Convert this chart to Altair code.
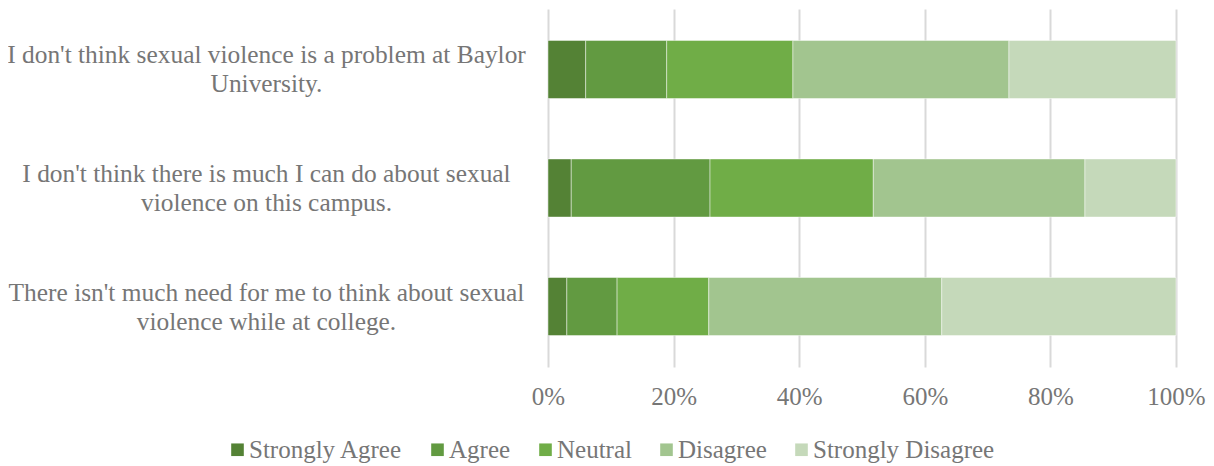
import altair as alt
import pandas as pd

statements = [
    "I don't think sexual violence is a problem at Baylor\nUniversity.",
    "I don't think there is much I can do about sexual\nviolence on this campus.",
    "There isn't much need for me to think about sexual\nviolence while at college.",
]
responses = ["Strongly Agree", "Agree", "Neutral", "Disagree", "Strongly Disagree"]
colors = ["#548235", "#629a41", "#70ad47", "#a2c58f", "#c5d9ba"]

strongly_agree = [6.0, 3.7, 3.0]
agree = [12.9, 22.1, 8.0]
neutral = [20.1, 26.0, 14.6]
disagree = [34.4, 33.7, 37.1]
strongly_disagree = [26.6, 14.5, 37.3]

series = [strongly_agree, agree, neutral, disagree, strongly_disagree]
rows = []
for ri, (resp, vals) in enumerate(zip(responses, series)):
    for s, v in zip(statements, vals):
        rows.append({"statement": s, "response": resp, "value": v, "order": ri})
df = pd.DataFrame(rows)

FONT = "Liberation Serif"
GREY = "#767676"

chart = alt.Chart(df).mark_bar(
    stroke="#ffffff", strokeWidth=1, strokeOpacity=0.45
).encode(
    y=alt.Y(
        "statement:N",
        sort=statements,
        title=None,
        scale=alt.Scale(paddingInner=0.51, paddingOuter=0.265),
        axis=alt.Axis(
            labelExpr="split(datum.label, '\\n')",
            labelAlign="center",
            labelPadding=282,
            labelOffset=-14,
            labelFontSize=25.4,
            labelLineHeight=29,
            labelLimit=0,
            labelColor=GREY,
            labelFont=FONT,
            ticks=False,
            domain=False,
            grid=False,
        ),
    ),
    x=alt.X(
        "value:Q",
        stack="normalize",
        title=None,
        scale=alt.Scale(domain=[0, 1], nice=False),
        axis=alt.Axis(
            format=".0%",
            values=[0, 0.2, 0.4, 0.6, 0.8, 1.0],
            labelFontSize=25,
            labelColor=GREY,
            labelFont=FONT,
            labelPadding=17,
            labelFlush=False,
            ticks=False,
            domain=False,
            grid=True,
            gridColor="#d9d9d9",
            gridWidth=2,
        ),
    ),
    color=alt.Color(
        "response:N",
        sort=responses,
        scale=alt.Scale(domain=responses, range=colors),
        legend=alt.Legend(
            title=None,
            orient="none",
            direction="horizontal",
            legendX=-323,
            legendY=428,
            symbolType="square",
            symbolSize=159,
            symbolStrokeWidth=0,
            labelFontSize=25,
            labelFont=FONT,
            labelColor=GREY,
            labelLimit=0,
            labelOffset=alt.ExprRef(expr="-1"),
            columnPadding=22,
        ),
    ),
    order=alt.Order("order:Q", sort="ascending"),
).properties(
    width=628,
    height=358,
    background="white",
    autosize=alt.AutoSizeParams(type="none"),
    padding={"left": 540, "top": 1, "right": 30, "bottom": 99},
).configure_view(
    stroke=None
)

chart.save("out.html", embed_options={"renderer": "svg", "actions": False})
